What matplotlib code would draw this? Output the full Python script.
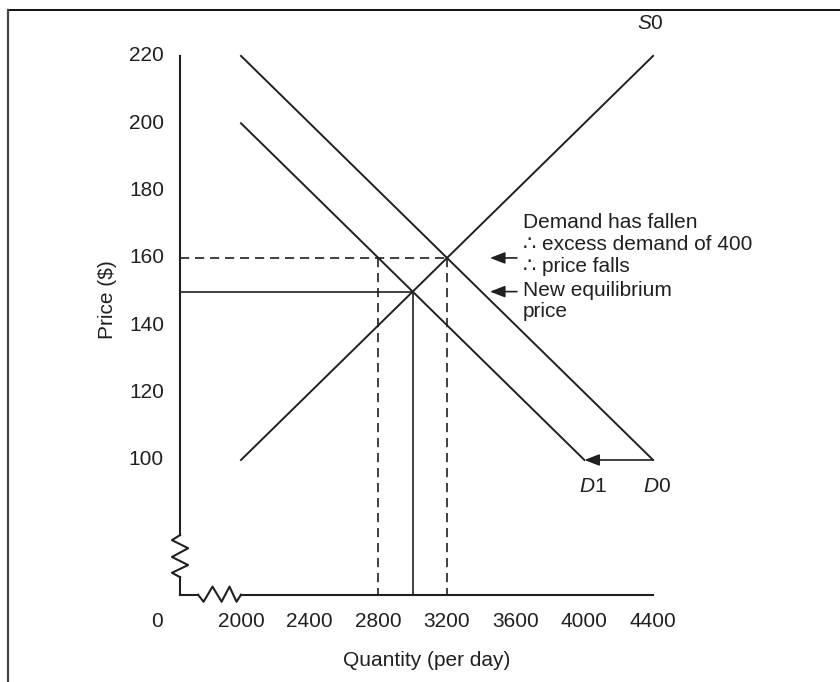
import matplotlib
matplotlib.use("Agg")
import matplotlib.pyplot as plt
from matplotlib.lines import Line2D

plt.rcParams['font.family'] = ['Liberation Sans', 'DejaVu Sans']
plt.rcParams['mathtext.fontset'] = 'custom'
plt.rcParams['mathtext.it'] = 'Liberation Sans:italic'
plt.rcParams['mathtext.rm'] = 'Liberation Sans'

# chart data
price_ticks = [100, 120, 140, 160, 180, 200, 220]
qty_ticks = [2000, 2400, 2800, 3200, 3600, 4000, 4400]
s0_q, s0_p = [2000, 4400], [100, 220]
d0_q, d0_p = [2000, 4400], [220, 100]
d1_q, d1_p = [2000, 4000], [200, 100]
old_q, old_p = 3200, 160      # old equilibrium
new_q, new_p = 3000, 150      # new equilibrium
short_q = 2800                # quantity demanded on D1 at old price
note_lines = ["Demand has fallen", "\u2234 excess demand of 400",
              "\u2234 price falls", "New equilibrium", "price"]

ink = '#231f20'
fs = 15

fig = plt.figure(figsize=(8.4, 6.82), dpi=100)
ax = fig.add_axes([0, 0, 1, 1])
ax.set_xlim(596.4, 5488.6)
ax.set_ylim(34.07, 236.6)
ax.axis('off')

# broken axes (origin drawn as "60" price / 1645 qty)
x0, y0 = 1645, 60
ax.plot([x0, x0], [220, 77.7], color=ink, lw=1.5)
zz_y = [77.7, 76.2, 73.8, 71.2, 68.8, 66.5, 65.2]
zz_x = [x0, x0 - 47, x0 + 47, x0 - 47, x0 + 47, x0 - 47, x0]
ax.plot(zz_x, zz_y, color=ink, lw=1.5)
ax.plot([x0, x0], [65.2, y0], color=ink, lw=1.5)
ax.plot([x0, 1750], [y0, y0], color=ink, lw=1.5)
hz_x = [1750, 1782, 1834, 1887, 1933, 1974, 2000]
hz_y = [y0, y0 - 2.1, y0 + 2.4, y0 - 2.1, y0 + 2.4, y0 - 2.1, y0]
ax.plot(hz_x, hz_y, color=ink, lw=1.5)
ax.plot([2000, 4400], [y0, y0], color=ink, lw=1.5)

# supply and demand
ax.plot(s0_q, s0_p, color=ink, lw=1.4)
ax.plot(d0_q, d0_p, color=ink, lw=1.4)
ax.plot(d1_q, d1_p, color=ink, lw=1.4)

# guide lines
dash = dict(color=ink, lw=1.2, dashes=(5.5, 3.5))
ax.plot([x0, old_q], [old_p, old_p], **dash)
ax.plot([short_q, short_q], [old_p, y0], **dash)
ax.plot([old_q, old_q], [old_p, y0], **dash)
ax.plot([x0, new_q], [new_p, new_p], color=ink, lw=1.2)
ax.plot([new_q, new_q], [new_p, y0], color=ink, lw=1.2)

# shift arrow D0 -> D1
arr = dict(arrowstyle='-|>,head_length=0.9,head_width=0.35', color=ink,
           lw=1.2, shrinkA=0, shrinkB=0)
ax.annotate('', xy=(d1_q[1], d1_p[1]), xytext=(d0_q[1], d0_p[1]), arrowprops=arr)

# annotation arrows
ax.annotate('', xy=(3450, old_p), xytext=(3607, old_p), arrowprops=arr)
ax.annotate('', xy=(3450, new_p), xytext=(3607, new_p), arrowprops=arr)
for txt, yy in zip(note_lines, [170.4, 163.9, 157.6, 150.2, 144.0]):
    ax.text(3642, yy, txt, fontsize=fs, color=ink, ha='left', va='center')

# tick labels
for p in price_ticks:
    ax.text(1551, p, str(p), fontsize=fs, color=ink, ha='right', va='center')
for q in qty_ticks:
    ax.text(q, 51.9, str(q), fontsize=fs, color=ink, ha='center', va='center')
ax.text(1511, 51.9, '0', fontsize=fs, color=ink, ha='center', va='center')

ax.text(3083, 40.6, 'Quantity (per day)', fontsize=fs, color=ink,
        ha='center', va='center')
ax.text(1225, 147.5, 'Price ($)', fontsize=fs, color=ink, rotation=90,
        ha='center', va='center')

# curve labels
ax.text(4385, 229.5, '$S$0', fontsize=fs, color=ink, ha='center', va='center')
ax.text(d1_q[1] + 50, 92, '$D$1', fontsize=fs, color=ink, ha='center', va='center')
ax.text(d0_q[1] + 25, 92, '$D$0', fontsize=fs, color=ink, ha='center', va='center')

# frame around the figure (top and left only)
fig.add_artist(Line2D([7.5 / 840, 1], [1 - 10 / 682, 1 - 10 / 682],
                      transform=fig.transFigure, color='black', lw=1.3))
fig.add_artist(Line2D([7.5 / 840, 7.5 / 840], [0, 1 - 10 / 682],
                      transform=fig.transFigure, color='#444444', lw=1.6))

fig.savefig('out.png', dpi=100)
